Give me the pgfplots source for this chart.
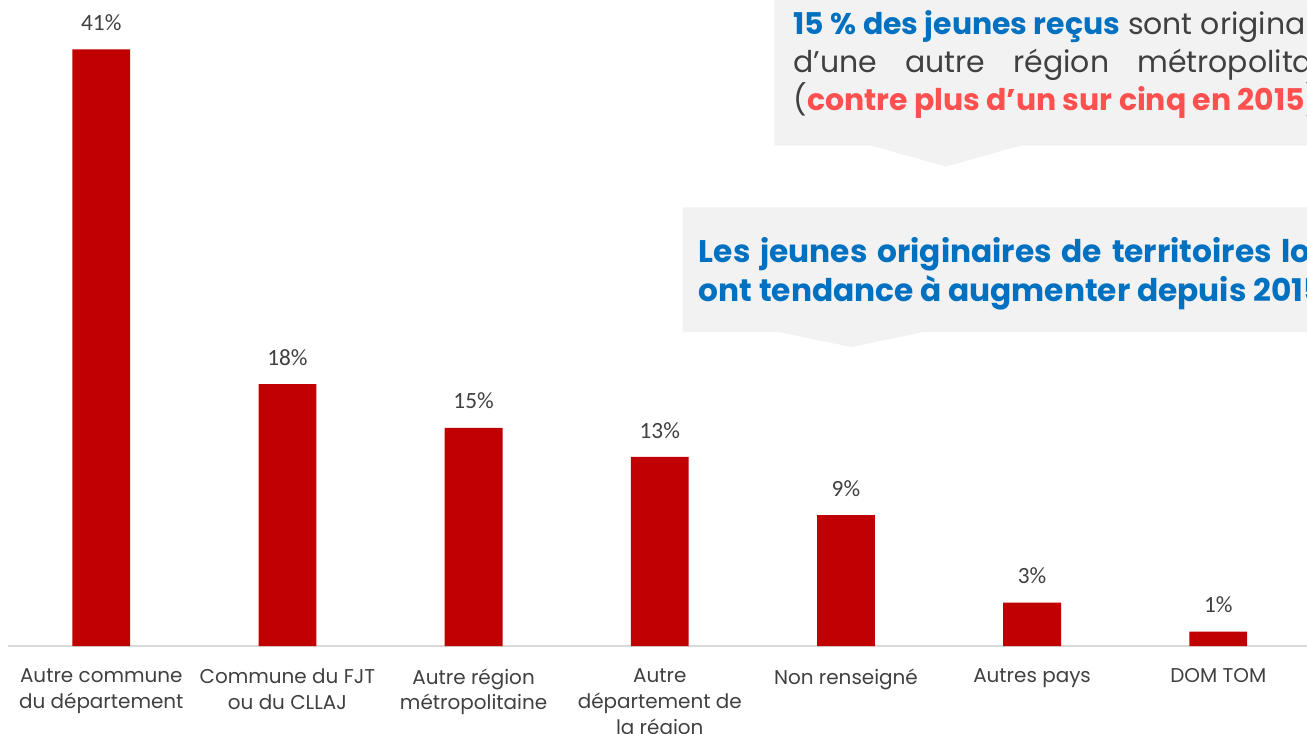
\documentclass[border=0pt]{standalone}
\usepackage{pgfplots}
\pgfplotsset{compat=1.18}
\usepackage{fontspec}
\setmainfont{Poppins}
\newfontfamily\calib{Carlito}
\definecolor{barred}{HTML}{C00000}
\definecolor{txtgray}{HTML}{404040}
\definecolor{boxgray}{HTML}{F2F2F2}
\definecolor{linegray}{HTML}{D9D9D9}
\definecolor{hiblue}{HTML}{0070C0}
\definecolor{hired}{HTML}{FF5050}
\newcommand\callfont{\fontsize{22.5}{26}\selectfont}
\newcommand\calltwofont{\fontsize{23.5}{27}\selectfont}
\newlength\lineone

\begin{document}
\settowidth{\lineone}{\callfont\textbf{15 \% des jeunes reçus} sont originaires}
% one unit = one pixel of the 1307x735 reference
\begin{tikzpicture}[x=0.75pt,y=0.75pt]
\useasboundingbox (0,0) rectangle (1307,-735);
\clip (0,0) rectangle (1307,-735);

\begin{axis}[
  at={(3.5pt,-486pt)}, anchor=south west,
  x=140pt, y=10.95pt,
  xmin=-0.5, xmax=6.5, ymin=0, ymax=42,
  ybar, bar width=43.5pt,
  axis x line*=bottom, axis y line=none,
  x axis line style={draw=linegray, line width=1.5pt},
  xtick=data, major tick length=0pt,
  xticklabels={{Autre commune\\du département},{Commune du FJT\\ou du CLLAJ},{Autre région\\métropolitaine},{Autre\\département de\\la région},{Non renseigné},{Autres pays},{DOM TOM}},
  xticklabel style={align=center, anchor=north, inner sep=0pt, yshift=-16.5pt,
    font=\fontsize{15}{19.5}\selectfont, text=txtgray},
  ytick=\empty,
  point meta=explicit symbolic,
  nodes near coords={\pgfplotspointmeta\%},
  every node near coord/.append style={anchor=base, yshift=14.25pt,
    font=\calib\fontsize{17.5}{20}\selectfont, text=txtgray},
  clip=false,
]
\addplot[fill=barred, draw=none] coordinates {
  (0,41) [41] (1,18) [18] (2,15) [15] (3,13) [13] (4,9) [9] (5,3) [3] (6,1) [1]
};
\end{axis}

% callout 1
\fill[boxgray] (773,10) -- (1400,10) -- (1400,-146) -- (1020,-146) -- (945,-167) -- (870,-146) -- (773,-146) -- cycle;
\begin{scope}[every node/.style={anchor=base west, inner sep=0pt, font=\callfont}]
\node[text=txtgray] at (792,-35) {\textcolor{hiblue}{\bfseries 15 \% des jeunes reçus} sont originaires};
\node[text=txtgray] at (792,-73) {\makebox[\lineone][s]{d’une autre région métropolitaine}};
\node[text=txtgray] at (792,-111) {(\textcolor{hired}{\bfseries contre plus d’un sur cinq en 2015})};
\end{scope}

% callout 2
\fill[boxgray] (681,-208) -- (1400,-208) -- (1400,-333) -- (922,-333) -- (850,-348) -- (777,-333) -- (681,-333) -- cycle;
\begin{scope}[every node/.style={anchor=base west, inner sep=0pt, text=hiblue, font=\bfseries\calltwofont}]
\node at (697,-263) {\makebox[520pt][s]{Les jeunes originaires de territoires locaux}};
\node at (697,-302) {ont tendance à augmenter depuis 2015};
\end{scope}
\end{tikzpicture}
\end{document}
